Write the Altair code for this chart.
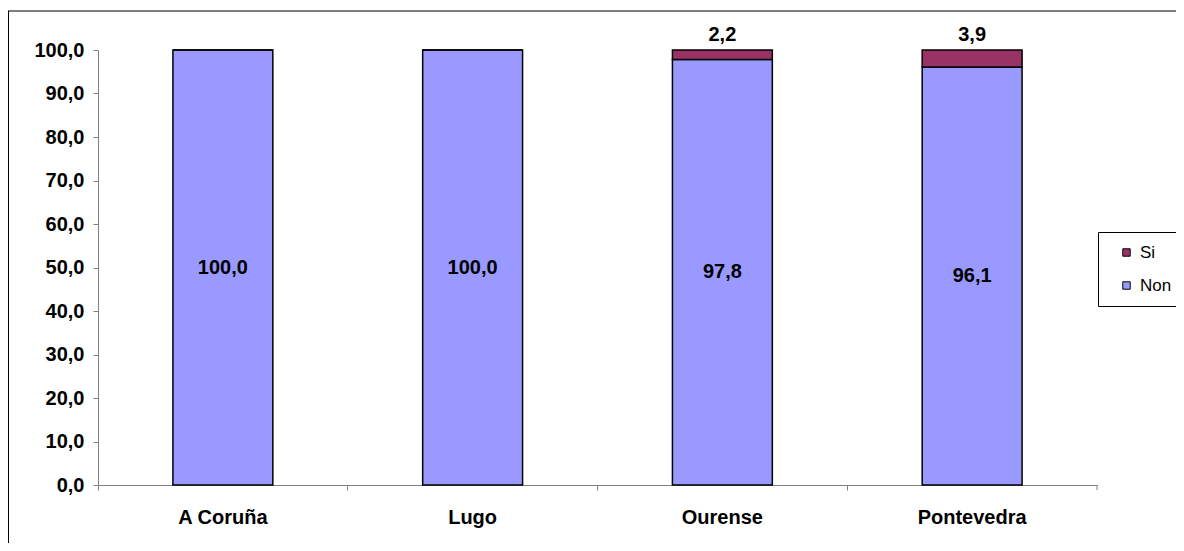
import altair as alt
import pandas as pd

categories = ["A Coruña", "Lugo", "Ourense", "Pontevedra"]
non_values = [100.0, 100.0, 97.8, 96.1]
si_values = [0.0, 0.0, 2.2, 3.9]
series = ["Si", "Non"]
colors = ["#993366", "#9999FF"]

rows = []
for c, n, s in zip(categories, non_values, si_values):
    rows.append({"cat": c, "serie": "Non", "val": n, "ord": 0})
    rows.append({"cat": c, "serie": "Si", "val": s, "ord": 1})
df = pd.DataFrame(rows)

FONT = "Liberation Sans"
FS = 20

base = alt.Chart(df)

xenc = alt.X("cat:N", sort=categories, title=None,
             scale=alt.Scale(paddingInner=0.6, paddingOuter=0.3),
             axis=alt.Axis(labelAngle=0, labelFont=FONT, labelFontWeight="bold",
                           labelFontSize=FS, labelColor="black", labelPadding=17,
                           domainColor="#808080", tickColor="#808080", tickSize=5,
                           bandPosition=-0.75))

bars = base.mark_bar(stroke="black", strokeWidth=1.5).encode(
    x=xenc,
    y=alt.Y("val:Q", stack="zero", title=None,
            scale=alt.Scale(domain=[0, 100], nice=False),
            axis=alt.Axis(values=list(range(0, 101, 10)), grid=False,
                          labelExpr="replace(format(datum.value, '.1f'), '.', ',')",
                          labelFont=FONT, labelFontWeight="bold", labelFontSize=FS,
                          labelColor="black", labelPadding=9,
                          domainColor="#808080", tickColor="#808080", tickSize=5)),
    color=alt.Color("serie:N", scale=alt.Scale(domain=series, range=colors),
                    legend=alt.Legend(title=None, orient="none", legendX=1000, legendY=182,
                                      symbolType="square", symbolSize=55,
                                      symbolStrokeColor="black", symbolStrokeWidth=1,
                                      labelFont=FONT, labelFontSize=17, labelColor="black",
                                      labelOffset=5,
                                      strokeColor="black", fillColor="white",
                                      padding=12, rowPadding=15, symbolOffset=8)),
    order=alt.Order("ord:Q"),
)

non_text = base.transform_filter("datum.serie == 'Non'").mark_text(
    font=FONT, fontWeight="bold", fontSize=FS, color="black"
).encode(
    x=alt.X("cat:N", sort=categories),
    y=alt.Y("mid:Q"),
    text=alt.Text("lab:N"),
).transform_calculate(
    mid="datum.val / 2",
    lab="replace(format(datum.val, '.1f'), '.', ',')",
)

si_text = base.transform_filter("datum.serie == 'Si' && datum.val > 0").mark_text(
    font=FONT, fontWeight="bold", fontSize=FS, color="black", dy=-15
).encode(
    x=alt.X("cat:N", sort=categories),
    y=alt.Y("top:Q"),
    text=alt.Text("lab:N"),
).transform_calculate(
    top="100",
    lab="replace(format(datum.val, '.1f'), '.', ',')",
)

one = alt.Data(values=[{"a": 1}])

border_top = alt.Chart(one).mark_rule(color="black", strokeWidth=1).encode(
    x=alt.value(-90), x2=alt.value(1200), y=alt.value(-39)
)
border_left = alt.Chart(one).mark_rule(color="black", strokeWidth=1).encode(
    x=alt.value(-89.5), y=alt.value(-39), y2=alt.value(700)
)

end_tick = alt.Chart(one).mark_rule(color="#808080", strokeWidth=1).encode(
    x=alt.value(999), y=alt.value(435), y2=alt.value(440)
)

chart = alt.layer(border_top, border_left, bars, non_text, si_text, end_tick).properties(
    width=999, height=435,
    autosize=alt.AutoSizeParams(type="none"),
    padding={"left": 90, "top": 42, "right": 79, "bottom": 58},
).configure_view(stroke=None)

chart.save("out.html", embed_options={"renderer": "svg", "actions": False})
